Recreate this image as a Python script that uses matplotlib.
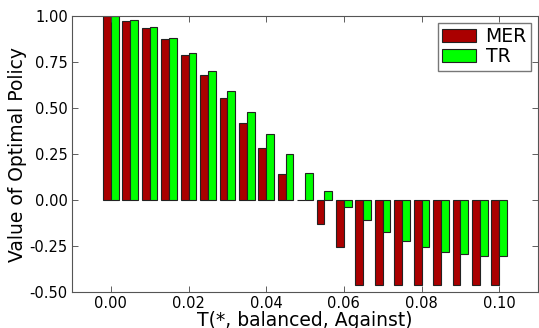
import matplotlib
matplotlib.use("Agg")
import matplotlib.pyplot as plt
import numpy as np

# thresholds on the x axis
T = [0.000, 0.005, 0.010, 0.015, 0.020, 0.025, 0.030, 0.035, 0.040, 0.045, 0.050,
     0.055, 0.060, 0.065, 0.070, 0.075, 0.080, 0.085, 0.090, 0.095, 0.100]

mer = [1.00, 0.975, 0.935, 0.873, 0.788, 0.679, 0.556, 0.420, 0.283, 0.140, 0.0,
       -0.132, -0.257, -0.462, -0.462, -0.462, -0.462, -0.462, -0.462, -0.462, -0.462]
tr = [1.00, 0.978, 0.940, 0.879, 0.801, 0.703, 0.594, 0.476, 0.360, 0.248, 0.145,
      0.051, -0.036, -0.109, -0.176, -0.225, -0.255, -0.281, -0.295, -0.303, -0.306]

x = np.array(T)
w = 0.002

fig = plt.figure(figsize=(5.39, 3.28), dpi=100)
ax = fig.add_axes([72/539, 1 - 292/328, 466/539, 276/328])

ax.bar(x - w, mer, width=w, align='edge', color='#aa0000', edgecolor='#222222',
       linewidth=0.8, label='MER')
ax.bar(x, tr, width=w, align='edge', color='#00ff00', edgecolor='#222222',
       linewidth=0.8, label='TR')

ax.set_xlim(-0.01, 0.11)
ax.set_ylim(-0.5, 1.0)
ax.set_xticks([0.00, 0.02, 0.04, 0.06, 0.08, 0.10])
ax.set_yticks([-0.5, -0.25, 0, 0.25, 0.5, 0.75, 1.0])
ax.xaxis.set_major_formatter(matplotlib.ticker.FormatStrFormatter('%.2f'))
ax.yaxis.set_major_formatter(matplotlib.ticker.FormatStrFormatter('%.2f'))
ax.tick_params(direction='in', top=True, right=True, labelsize=10.5, length=4,
               width=0.6, colors='#444444', labelcolor='black', pad=3)
for s in ax.spines.values():
    s.set_color('#555555')

ax.set_xlabel('T(*, balanced, Against)', fontsize=13.5, labelpad=0)
ax.set_ylabel('Value of Optimal Policy', fontsize=13.5, labelpad=2)

leg = ax.legend(loc='upper right', fontsize=13.5, fancybox=False, borderpad=0.25,
                labelspacing=0.05, handlelength=1.8, handletextpad=0.5,
                borderaxespad=0.35)
leg.get_frame().set_edgecolor('#555555')

fig.savefig('out.png', dpi=100)
